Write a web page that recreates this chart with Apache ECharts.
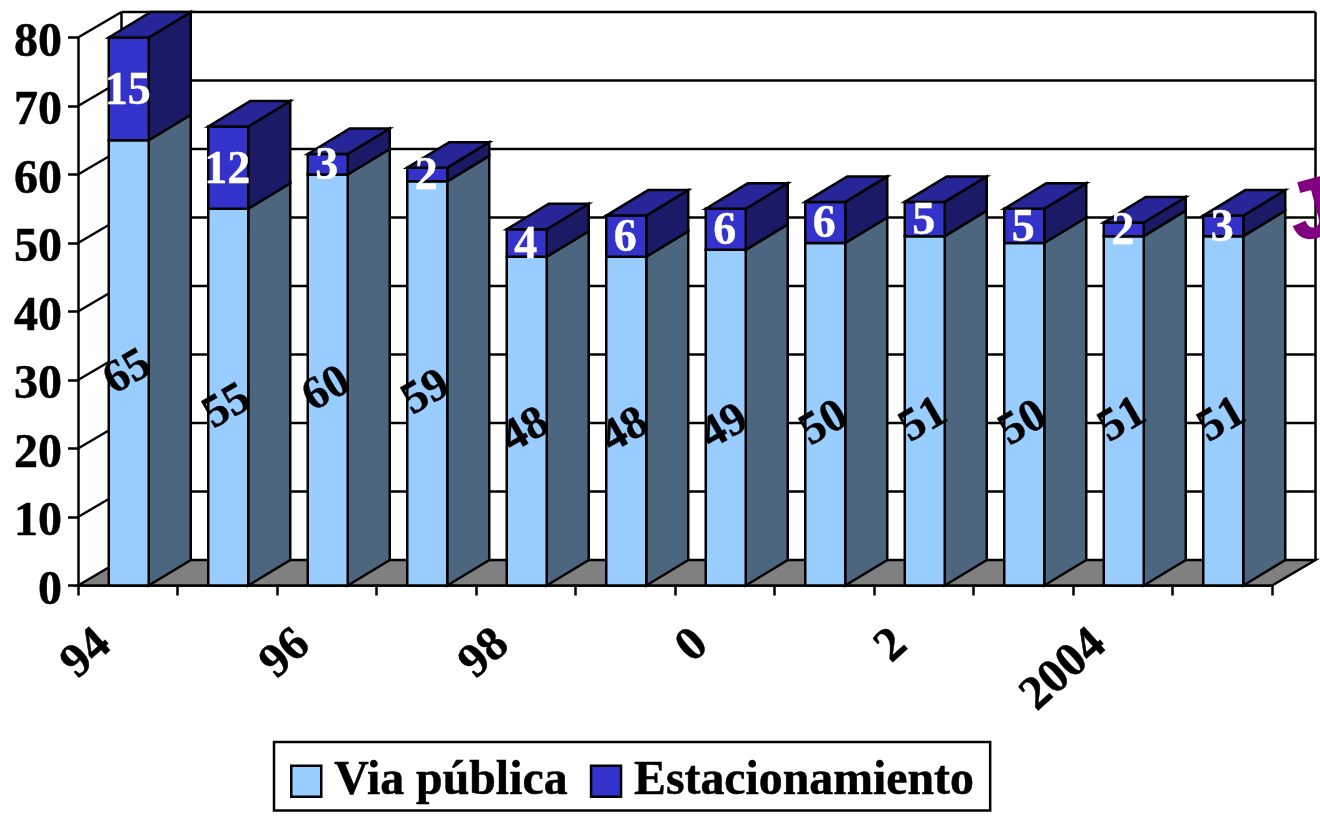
<!DOCTYPE html>
<html>
<head>
<meta charset="utf-8">
<script src="https://cdn.jsdelivr.net/npm/echarts@6/dist/echarts.min.js"></script>
<style>
html, body { margin: 0; background: #fff; overflow: hidden; }
#c { width: 1320px; height: 817px; }
</style>
</head>
<body>
<div id="c"></div>
<script>
// datos
var years = ['94', '95', '96', '97', '98', '99', '0', '1', '2', '3', '2004', '5'];
var viaPublica = [65, 55, 60, 59, 48, 48, 49, 50, 51, 50, 51, 51];
var estacionamiento = [15, 12, 3, 2, 4, 6, 6, 6, 5, 5, 2, 3];
var yTicks = [0, 10, 20, 30, 40, 50, 60, 70, 80];

var FONT = '"Liberation Serif", "Times New Roman", serif';
var DX = 43.5, DY = 25.5; // profundidad 3d
var BAR_DX = 42;
var LW = 2.5;

function wall(params, api) {
    var v = api.value(0);
    var cs = params.coordSys;
    var y = api.coord([0, v])[1];
    var left = cs.x, right = cs.x + cs.width;
    var line = { stroke: '#000', lineWidth: LW, fill: null };
    var ch = [];
    if (v === 0) {
        ch.push({
            type: 'polygon',
            shape: { points: [[left, y], [left + DX, y - DY], [right + DX, y - DY], [right, y]] },
            style: { fill: '#808080', stroke: '#000', lineWidth: LW }
        });
        ch.push({ type: 'line', shape: { x1: left + DX, y1: y - DY, x2: left + DX, y2: cs.y - DY }, style: line });
        ch.push({ type: 'line', shape: { x1: right + DX, y1: y - DY, x2: right + DX, y2: cs.y - DY }, style: line });
    } else {
        ch.push({ type: 'line', shape: { x1: left, y1: y, x2: left + DX, y2: y - DY }, style: line });
        ch.push({ type: 'line', shape: { x1: left + DX, y1: y - DY, x2: right + DX, y2: y - DY }, style: line });
    }
    return { type: 'group', children: ch };
}

function barRender(base, front, side, top, txtColor, isTop) {
    return function (params, api) {
        var i = api.value(0), v = api.value(1);
        var b = base ? base[i] : 0;
        var p0 = api.coord([i, b]);
        var p1 = api.coord([i, b + v]);
        var w = api.size([1, 0])[0] * 0.402;
        var cx = p0[0] + 1;
        var x0 = cx - w / 2, x1 = cx + w / 2;
        var edge = { stroke: '#000', lineWidth: LW, lineJoin: 'miter' };
        var ch = [
            { type: 'polygon', shape: { points: [[x1, p0[1]], [x1 + BAR_DX, p0[1] - DY], [x1 + BAR_DX, p1[1] - DY], [x1, p1[1]]] },
              style: Object.assign({ fill: side }, edge) },
            { type: 'rect', shape: { x: x0, y: p1[1], width: w, height: p0[1] - p1[1] },
              style: Object.assign({ fill: front }, edge) }
        ];
        if (isTop) {
            ch.push({ type: 'polygon', shape: { points: [[x0, p1[1]], [x0 + BAR_DX, p1[1] - DY], [x1 + BAR_DX, p1[1] - DY], [x1, p1[1]]] },
                style: Object.assign({ fill: top }, edge) });
        }
        ch.push({
            type: 'text', z2: 100,
            x: cx - 1,
            y: (p0[1] + p1[1]) / 2 + (isTop ? 3 : 10),
            rotation: isTop ? 0 : Math.PI * 30 / 180,
            style: { text: String(v), font: 'bold 46px ' + FONT, fill: txtColor, align: 'center', verticalAlign: 'middle',
                     stroke: txtColor, lineWidth: 0.4 }
        });
        return { type: 'group', children: ch };
    };
}

var heavy = { textBorderColor: '#000', textBorderWidth: 0.5 };
var chart = echarts.init(document.getElementById('c'), null, { renderer: 'canvas' });
chart.setOption({
    animation: false,
    backgroundColor: '#fff',
    grid: { left: 78, right: 48, top: 37.5, bottom: 231.5 },
    legend: {
        left: 274, top: 742,
        orient: 'horizontal',
        padding: [15, 16, 5, 16],
        itemGap: 22,
        itemWidth: 30, itemHeight: 31,
        borderColor: '#000', borderWidth: 2.5,
        textStyle: Object.assign({ fontFamily: FONT, fontWeight: 'bold', fontSize: 47.8, color: '#000', padding: [0, 0, 0, 8] }, heavy),
        data: [
            { name: 'Via pública', icon: 'rect', itemStyle: { color: '#99CCFF', borderColor: '#000', borderWidth: 2.5 } },
            { name: 'Estacionamiento', icon: 'rect', itemStyle: { color: '#3333CC', borderColor: '#000', borderWidth: 2.5 } }
        ]
    },
    xAxis: {
        type: 'category',
        data: years,
        boundaryGap: true,
        axisLine: { lineStyle: { color: '#000', width: LW } },
        axisTick: { show: true, interval: 0, length: 10, lineStyle: { color: '#000', width: LW } },
        axisLabel: Object.assign({ interval: 1, rotate: 42, margin: 32, padding: [0, 31, 0, 0], color: '#000', fontFamily: FONT, fontWeight: 'bold', fontSize: 48 }, heavy)
    },
    yAxis: {
        type: 'value',
        min: 0, max: 80, interval: 10,
        axisLine: { show: true, lineStyle: { color: '#000', width: LW } },
        axisTick: { show: true, length: 10, lineStyle: { color: '#000', width: LW } },
        splitLine: { show: false },
        axisLabel: Object.assign({ margin: 16, verticalAlign: 'top', lineHeight: 12, color: '#000', fontFamily: FONT, fontWeight: 'bold', fontSize: 48 }, heavy)
    },
    graphic: [{
        type: 'text', x: 1313, y: 214, rotation: Math.PI * 15 / 180, z: 50,
        style: { text: 'J', font: 'bold 82px "Liberation Sans", Arial, sans-serif', fill: '#800080', stroke: '#800080', lineWidth: 2, align: 'center', verticalAlign: 'middle' }
    }],
    series: [
        { type: 'custom', name: 'pared', z: 1, silent: true, renderItem: wall, data: yTicks.map(function (t) { return [t]; }), encode: { y: 0 } },
        { type: 'custom', name: 'Via pública', z: 2, renderItem: barRender(null, '#99CCFF', '#4D6680', '#4D6680', '#000', false),
          itemStyle: { color: '#99CCFF' }, encode: { x: 0, y: 1 },
          data: viaPublica.map(function (v, i) { return [i, v]; }) },
        { type: 'custom', name: 'Estacionamiento', z: 2, renderItem: barRender(viaPublica, '#3333CC', '#1A1A66', '#262699', '#fff', true),
          itemStyle: { color: '#3333CC' }, encode: { x: 0, y: 1 },
          data: estacionamiento.map(function (v, i) { return [i, v]; }) }
    ]
});
</script>
</body>
</html>
